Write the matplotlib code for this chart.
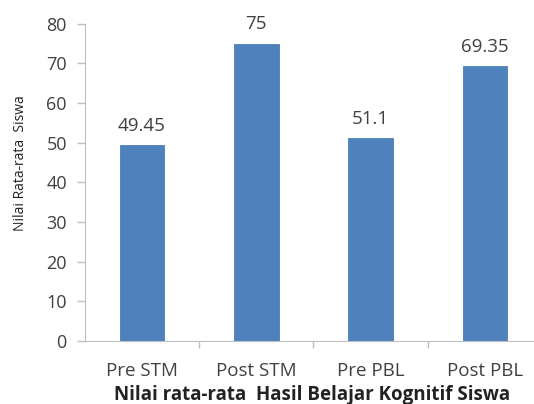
import matplotlib.pyplot as plt

# Nilai rata-rata per kelompok
kelompok = ['Pre STM', 'Post STM', 'Pre PBL', 'Post PBL']
nilai = [49.45, 75, 51.1, 69.35]
label_nilai = ['49.45', '75', '51.1', '69.35']
yticks = [0, 10, 20, 30, 40, 50, 60, 70, 80]

plt.rcParams['font.family'] = ['Open Sans', 'DejaVu Sans']
teks = '#404040'
garis = '#bfbfbf'

fig = plt.figure(figsize=(5.34, 4.04), dpi=100)
ax = fig.add_axes([0.159, 0.156, 0.856, 0.785])

x = range(len(kelompok))
bars = ax.bar(x, nilai, width=0.39, color='#4f81bd', edgecolor='#4a7ebb', linewidth=0.6)

for bar, lbl in zip(bars, label_nilai):
    ax.text(bar.get_x() + bar.get_width() / 2, bar.get_height() + 2.6, lbl,
            ha='center', va='bottom', fontsize=13.5, color=teks)

ax.set_xlim(-0.5, len(kelompok) - 0.5)
ax.set_ylim(0, 80)
ax.set_yticks(yticks)
ax.set_yticklabels([str(t) for t in yticks], fontsize=13, color=teks)

# tick x di batas antar kategori, label di tengah
ax.set_xticks([0.5, 1.5, 2.5, 3.5])
ax.set_xticklabels([])
ax.set_xticks(list(x), minor=True)
ax.set_xticklabels(kelompok, minor=True, fontsize=13.5, color=teks)
ax.tick_params(axis='x', which='minor', length=0, pad=15)
ax.tick_params(axis='x', which='major', length=5, color=garis, width=1)
ax.tick_params(axis='y', length=6, color=garis, width=1, pad=7)

for s in ['top', 'right']:
    ax.spines[s].set_visible(False)
ax.spines['left'].set_color(garis)
ax.spines['bottom'].set_color(garis)

ax.set_ylabel('Nilai Rata-rata  Siswa', fontsize=10, color='#222222')
ax.yaxis.set_label_coords(-0.125, 0.56)

# judul sumbu x diletakkan langsung di bawah figure
fig.text(0.585, 0.01, 'Nilai rata-rata  Hasil Belajar Kognitif Siswa', fontsize=13.5,
         fontweight='bold', color='#222222', ha='center', va='baseline')

plt.savefig('out.png', dpi=100)
